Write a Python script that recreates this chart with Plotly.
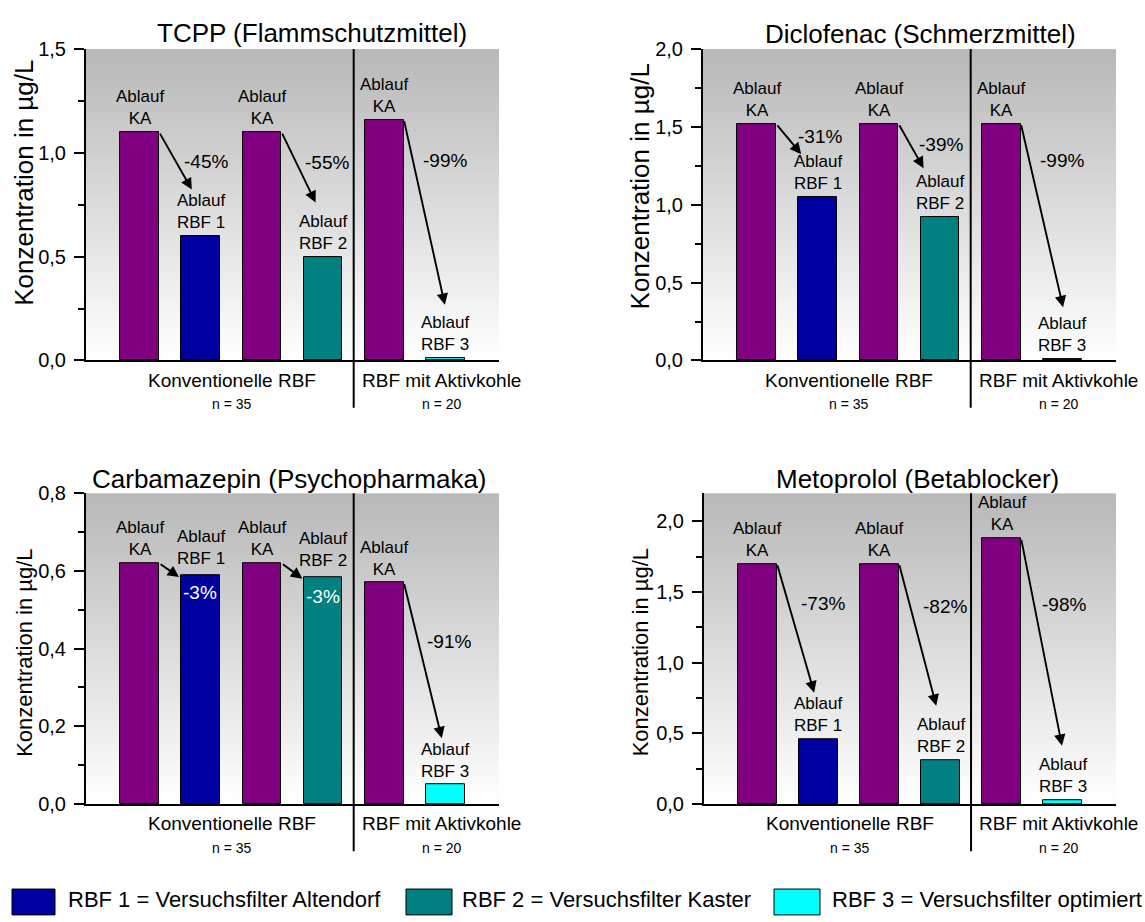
import base64, struct, zlib
import plotly.graph_objects as go

# ---------------- data ----------------
categories = ["Ablauf KA", "Ablauf RBF 1", "Ablauf KA", "Ablauf RBF 2", "Ablauf KA", "Ablauf RBF 3"]
bar_labels = ["Ablauf<br>KA", "Ablauf<br>RBF 1", "Ablauf<br>KA", "Ablauf<br>RBF 2", "Ablauf<br>KA", "Ablauf<br>RBF 3"]
titles = ["TCPP (Flammschutzmittel)", "Diclofenac (Schmerzmittel)",
          "Carbamazepin (Psychopharmaka)", "Metoprolol (Betablocker)"]
tcpp = [1.10, 0.60, 1.10, 0.50, 1.16, 0.013]
diclofenac = [1.52, 1.05, 1.52, 0.92, 1.52, 0.008]
carbamazepin = [0.62, 0.59, 0.62, 0.585, 0.57, 0.05]
metoprolol = [1.70, 0.46, 1.70, 0.31, 1.88, 0.025]
red_tcpp = ["-45%", "-55%", "-99%"]
red_diclofenac = ["-31%", "-39%", "-99%"]
red_carbamazepin = ["-3%", "-3%", "-91%"]
red_metoprolol = ["-73%", "-82%", "-98%"]
group_labels = ["Konventionelle RBF", "RBF mit Aktivkohle"]
n_labels = ["n = 35", "n = 20"]
legend_labels = ["RBF 1 = Versuchsfilter Altendorf", "RBF 2 = Versuchsfilter Kaster",
                 "RBF 3 = Versuchsfilter optimiert"]
y_title = "Konzentration in µg/L"

series = [tcpp, diclofenac, carbamazepin, metoprolol]
reductions = [red_tcpp, red_diclofenac, red_carbamazepin, red_metoprolol]

# ---------------- styles / layout ----------------
W, H = 1145, 922
FONT = "Liberation Sans, Arial, sans-serif"
bar_colors = ["#800080", "#0000a0", "#800080", "#008080", "#800080", "#00ffff"]
legend_colors = ["#0000a0", "#008080", "#00ffff"]
x_positions = [0, 1, 2, 3, 4, 5]
x_range = [-0.875, 5.875]

panel_px = [(86, 499, 39, 358), (703, 1116, 39, 358), (86, 499, 494, 812.3), (704, 1116, 494, 812.3)]
y_tops = [1.5, 2.0, 0.8, 2.2]
dticks = [0.5, 0.5, 0.2, 0.5]
title_px = [(311.5, 23), (920, 24), (289.6, 479), (917.5, 479)]
ytitle_px = [(24.5, 176.5, 26), (639.7, 180, 26), (25, 657.5, 22), (640.5, 657.5, 22)]
# arrow heads (tails start at top-right corner of the KA bars)
arrow_heads = [
    [(0.854, 0.823), (2.877, 0.761), (4.99, 0.268)],
    [(0.73, 1.325), (2.73, 1.235), (5.01, 0.342)],
    [(0.646, 0.584), (2.66, 0.58), (4.94, 0.169)],
    [(0.93, 0.788), (2.93, 0.695), (4.99, 0.412)],
]
pct_pos = [
    [(1.08, 0.958), (3.07, 0.953), (5.0, 0.962)],
    [(1.04, 1.44), (3.02, 1.39), (5.0, 1.284)],
    [(0.99, 0.544), (3.0, 0.534), (5.06, 0.418)],
    [(1.07, 1.42), (3.07, 1.40), (5.02, 1.414)],
]
pct_colors = [["black"] * 3, ["black"] * 3, ["white", "white", "black"], ["black"] * 3]
label_shift = [[2] * 6, [2] * 6, [2, 5, 2, 5, 2, 2], [2] * 6]
group_x = [1.51, 4.94]


def px2paper_x(px):
    return px / W


def px2paper_y(py):
    return 1 - py / H


def gradient_png(top, bottom, h=128, w=2):
    rows = b""
    for r in range(h):
        t = r / (h - 1)
        v = int(round(top + (bottom - top) * t))
        rows += b"\x00" + bytes([v, v, v] * w)

    def chunk(tag, data):
        return (struct.pack(">I", len(data)) + tag + data
                + struct.pack(">I", zlib.crc32(tag + data) & 0xFFFFFFFF))

    ihdr = struct.pack(">IIBBBBB", w, h, 8, 2, 0, 0, 0)
    png = (b"\x89PNG\r\n\x1a\n" + chunk(b"IHDR", ihdr)
           + chunk(b"IDAT", zlib.compress(rows)) + chunk(b"IEND", b""))
    return "data:image/png;base64," + base64.b64encode(png).decode()


grad = gradient_png(184, 255)

fig = go.Figure()
annotations = []
shapes = []
images = []

for i, (vals, reds) in enumerate(zip(series, reductions)):
    k = "" if i == 0 else str(i + 1)
    xa, ya = "x" + k, "y" + k
    x0p, x1p, y0p, y1p = panel_px[i]
    fig.add_trace(go.Bar(
        x=x_positions, y=vals, xaxis=xa, yaxis=ya, width=0.63,
        marker=dict(color=bar_colors, line=dict(color="black", width=1)),
        hovertext=categories, showlegend=False,
    ))
    fig.layout["xaxis" + k] = dict(
        domain=[px2paper_x(x0p), px2paper_x(x1p)], anchor=ya, range=x_range,
        showline=True, linecolor="black", linewidth=2, showticklabels=False,
        ticks="", showgrid=False, zeroline=False, fixedrange=True,
    )
    fig.layout["yaxis" + k] = dict(
        domain=[px2paper_y(y1p), px2paper_y(y0p)], anchor=xa, range=[0, y_tops[i]],
        showline=True, linecolor="black", linewidth=2, ticks="outside", ticklen=10,
        tickwidth=1.5, tickcolor="black", dtick=dticks[i], tick0=0, tickformat=".1f",
        tickfont=dict(size=20, color="black", family=FONT), showgrid=False,
        zeroline=False, fixedrange=True, ticklabelstandoff=4,
        minor=dict(ticks="outside", ticklen=6, tickwidth=1.5, tickcolor="black",
                   dtick=dticks[i] / 2, showgrid=False),
    )
    # gradient background
    images.append(dict(source=grad, xref=xa, yref=ya, x=x_range[0], y=y_tops[i],
                       sizex=x_range[1] - x_range[0], sizey=y_tops[i],
                       xanchor="left", yanchor="top", sizing="stretch", layer="below"))
    # divider
    shapes.append(dict(type="line", xref=xa, yref="paper", x0=3.5, x1=3.5,
                       y0=px2paper_y(y1p + 48.5), y1=px2paper_y(y0p),
                       line=dict(color="black", width=2)))
    # title
    tx, ty = title_px[i]
    annotations.append(dict(text=titles[i], xref="paper", yref="paper",
                            x=px2paper_x(tx), y=px2paper_y(ty), xanchor="center",
                            yanchor="middle", showarrow=False,
                            font=dict(size=26, color="black", family=FONT)))
    # y title
    yx, yy, ys = ytitle_px[i]
    annotations.append(dict(text=y_title, xref="paper", yref="paper",
                            x=px2paper_x(yx), y=px2paper_y(yy), textangle=-90,
                            xanchor="center", yanchor="middle", showarrow=False,
                            font=dict(size=ys, color="black", family=FONT)))
    # bar labels
    for j, (xv, v) in enumerate(zip(x_positions, vals)):
        annotations.append(dict(text=bar_labels[j], xref=xa, yref=ya, x=xv, y=v,
                                yanchor="bottom", xanchor="center", yshift=label_shift[i][j],
                                showarrow=False,
                                font=dict(size=17, color="black", family=FONT)))
    # arrows and reductions
    for a, ka in enumerate([0, 2, 4]):
        hx, hy = arrow_heads[i][a]
        annotations.append(dict(text="", xref=xa, yref=ya, axref=xa, ayref=ya,
                                x=hx, y=hy, ax=x_positions[ka] + 0.32, ay=vals[ka],
                                showarrow=True, arrowhead=2, arrowsize=1.2,
                                arrowwidth=1.9, arrowcolor="black",
                                standoff=0, startstandoff=0))
        px_, py_ = pct_pos[i][a]
        annotations.append(dict(text=reds[a], xref=xa, yref=ya, x=px_, y=py_,
                                showarrow=False, xanchor="center", yanchor="middle",
                                font=dict(size=19, color=pct_colors[i][a], family=FONT)))
    # group labels
    for g in range(2):
        annotations.append(dict(text=group_labels[g], xref=xa, yref="paper",
                                x=group_x[g], y=px2paper_y(y1p + 20.5),
                                xanchor="center", yanchor="middle", showarrow=False,
                                font=dict(size=19, color="black", family=FONT)))
        annotations.append(dict(text=n_labels[g], xref=xa, yref="paper",
                                x=group_x[g], y=px2paper_y(y1p + 45),
                                xanchor="center", yanchor="middle", showarrow=False,
                                font=dict(size=14, color="black", family=FONT)))

# legend (drawn manually to match the large swatches)
legend_sq_px = [(12, 55), (406, 452), (774, 820)]
legend_text_px = [66, 460, 830]
for c, (sx0, sx1), tx, lab in zip(legend_colors, legend_sq_px, legend_text_px, legend_labels):
    shapes.append(dict(type="rect", xref="paper", yref="paper",
                       x0=px2paper_x(sx0), x1=px2paper_x(sx1),
                       y0=px2paper_y(926), y1=px2paper_y(899.5),
                       fillcolor=c, line=dict(color="black", width=1)))
    annotations.append(dict(text=lab, xref="paper", yref="paper", x=px2paper_x(tx),
                            y=px2paper_y(910), xanchor="left", yanchor="middle",
                            showarrow=False,
                            font=dict(size=22, color="black", family=FONT)))

fig.update_layout(
    width=W, height=H, margin=dict(l=0, r=0, t=0, b=0, pad=0),
    paper_bgcolor="white", plot_bgcolor="rgba(0,0,0,0)",
    separators=",.", font=dict(family=FONT, color="black"),
    annotations=annotations, shapes=shapes, images=images,
    bargap=0, showlegend=False,
)

fig.write_html("out.html", config={"displayModeBar": False},
               post_script="document.body.style.margin='0';")
